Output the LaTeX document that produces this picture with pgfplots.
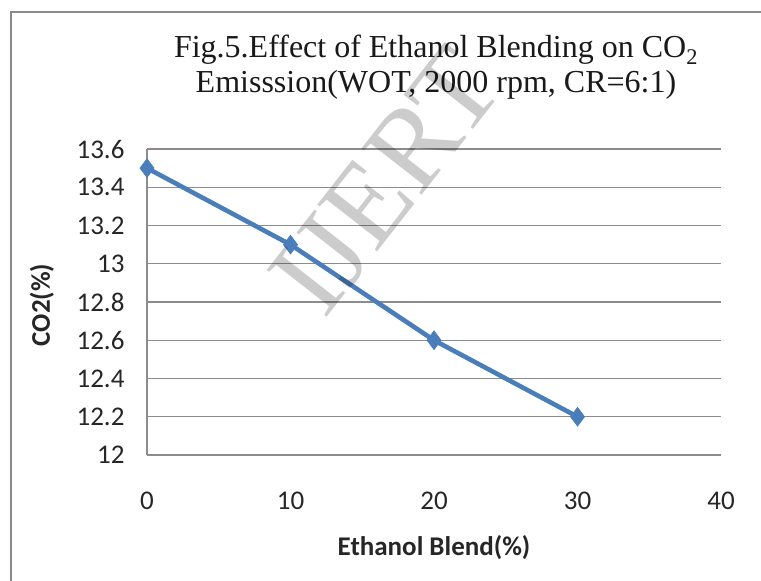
\documentclass[border=0pt]{standalone}
\usepackage{pgfplots}
\pgfplotsset{compat=1.18}
\usepackage{fontspec}
\setmainfont{Carlito}
\newfontfamily\titlefont{Liberation Serif}
\definecolor{seriesblue}{HTML}{4A7EBB}
\definecolor{gridgray}{HTML}{8C8C8C}
\definecolor{framegray}{HTML}{8A8A8A}

\begin{document}
\begin{tikzpicture}[x=1pt,y=1pt]
\path[use as bounding box] (0,0) rectangle (761,581);
% chart frame (left and top edges)
\draw[framegray, line width=2.2pt] (11,-5) -- (11,569) -- (770,569);
\begin{axis}[
  at={(147pt,126pt)}, anchor=south west,
  scale only axis, width=574pt, height=306pt,
  xmin=0, xmax=40, ymin=12, ymax=13.6,
  xtick={0,10,20,30,40},
  ytick={12,12.2,12.4,12.6,12.8,13,13.2,13.4,13.6},
  yticklabels={12,12.2,12.4,12.6,12.8,13,13.2,13.4,13.6},
  axis lines=left, axis line style={-, gridgray, line width=1.3pt},
  major tick length=0pt,
  ymajorgrids, grid style={gridgray, line width=1.3pt},
  /pgf/number format/assume math mode=true,
  tick label style={font=\fontsize{27}{32}\selectfont, text=black!85},
  xticklabel style={yshift=-33pt},
  yticklabel style={xshift=-19pt},
  xlabel={Ethanol Blend(\%)},
  ylabel={CO2(\%)},
  label style={font=\bfseries\fontsize{27}{32}\selectfont, text=black!85},
  xlabel style={at={(axis description cs:0.5,-0.304)}, anchor=center},
  ylabel style={at={(axis description cs:-0.183,0.49)}, anchor=center, rotate=0},
  clip=false,
]
\addplot[seriesblue, line width=4.6pt, mark=diamond*, mark size=9.5pt,
  mark options={fill=seriesblue, draw=seriesblue, line width=0.5pt}]
  coordinates {(0,13.5) (10,13.1) (20,12.6) (30,12.2)};
\end{axis}
% title
\node[font=\titlefont\fontsize{32}{36}\selectfont, text=black!90,
  anchor=base] at (436,523) {Fig.5.Effect of Ethanol Blending on CO\textsubscript{2}};
\node[font=\titlefont\fontsize{32}{36}\selectfont, text=black!90,
  anchor=base] at (436,488) {Emisssion(WOT, 2000 rpm, CR=6:1)};
% watermark
\node[rotate=52, font=\titlefont\fontsize{116}{116}\selectfont, text=black, opacity=0.2]
  at (386,400) {IJERT};
\end{tikzpicture}
\end{document}
